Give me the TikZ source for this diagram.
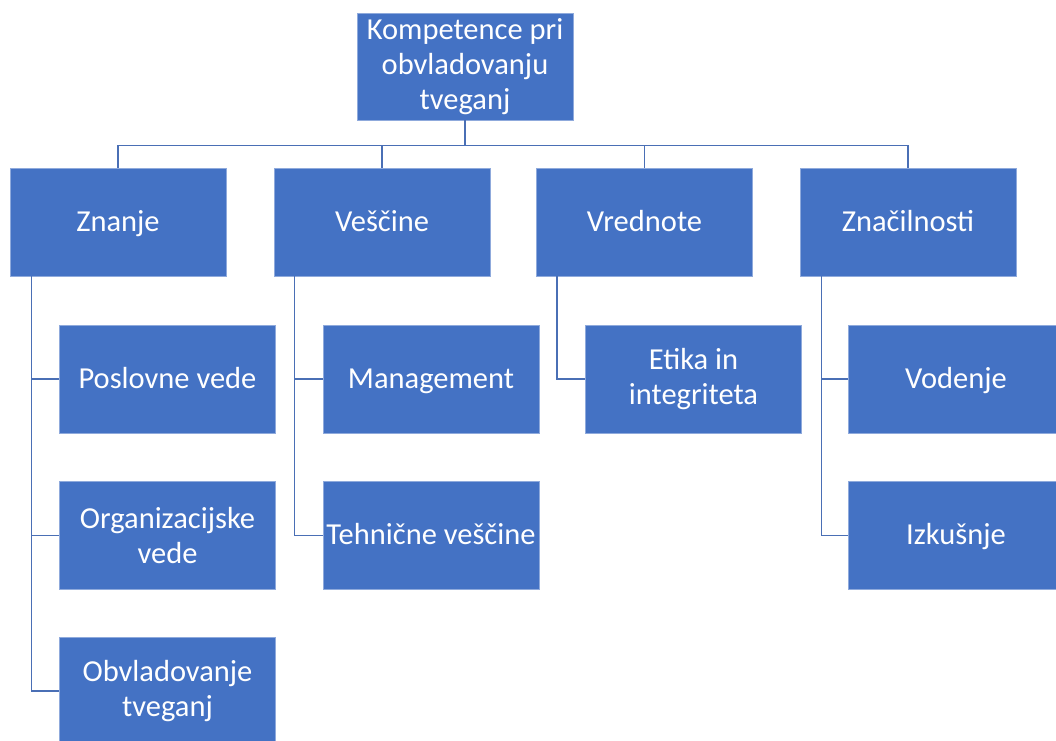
\documentclass[tikz,border=0pt]{standalone}
\usepackage{fontspec}
\setmainfont{Carlito}
\usetikzlibrary{calc}
\definecolor{boxblue}{HTML}{4472C4}
\definecolor{edgeblue}{HTML}{8FAADC}
\definecolor{linkblue}{HTML}{4A6FB5}
\tikzset{
  unit/.style={rectangle, minimum width=216pt, minimum height=108pt, inner sep=0pt,
    fill=boxblue, draw=edgeblue, line width=0.8pt, text=white, align=center,
    font=\fontsize{30.5}{35}\selectfont},
  oneline/.style={unit, text height=24.4pt, text depth=6.4pt},
  link/.style={draw=linkblue, line width=1.5pt}
}
\begin{document}
\begin{tikzpicture}[x=1pt,y=-1pt]
\useasboundingbox (0,0) rectangle (1056,740);
\clip (0,0) rectangle (1056,740);

% root
\node[unit, minimum height=107pt] (root) at (465,66.5) {Kompetence pri\\obvladovanju\\tveganj};

% first level
\node[oneline] (zn) at (118,222) {Znanje};
\node[oneline] (ve) at (382,222) {Veščine};
\node[oneline] (vr) at (644.5,222) {Vrednote};
\node[oneline] (za) at (908,222) {Značilnosti};

% second level
\node[oneline] (zn1) at (167.5,379) {Poslovne vede};
\node[unit] (zn2) at (167.5,535.5) {Organizacijske\\vede};
\node[unit] (zn3) at (167.5,691) {Obvladovanje\\tveganj};
\node[oneline] (ve1) at (431,379) {Management};
\node[oneline] (ve2) at (431,535.5) {Tehnične veščine};
\node[unit] (vr1) at (693.5,379) {Etika in\\integriteta};
\node[oneline] (za1) at (956,379) {Vodenje};
\node[oneline] (za2) at (956,535.5) {Izkušnje};

% root to first level
\coordinate (bus) at ($(root.south)+(0,25)$);
\foreach \n in {zn,ve,vr,za}
  \draw[link] (root.south) -- (bus) -| (\n.north);

% first level to second level
\draw[link] ($(zn.south west)+(22,0)$) |- (zn1.west);
\draw[link] ($(zn.south west)+(22,0)$) |- (zn2.west);
\draw[link] ($(zn.south west)+(22,0)$) |- (zn3.west);
\draw[link] ($(ve.south west)+(21,0)$) |- (ve1.west);
\draw[link] ($(ve.south west)+(21,0)$) |- (ve2.west);
\draw[link] ($(vr.south west)+(21,0)$) |- (vr1.west);
\draw[link] ($(za.south west)+(22,0)$) |- (za1.west);
\draw[link] ($(za.south west)+(22,0)$) |- (za2.west);
\end{tikzpicture}
\end{document}
